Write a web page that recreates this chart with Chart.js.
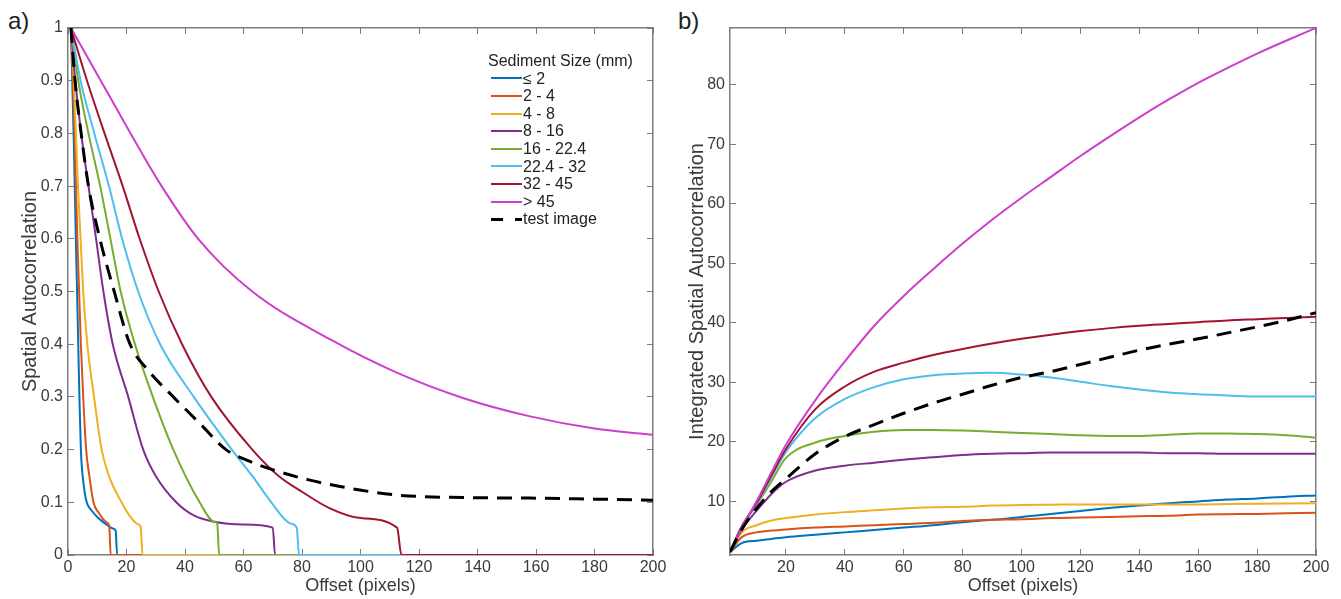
<!DOCTYPE html>
<html>
<head>
<meta charset="utf-8">
<title>Spatial autocorrelation by sediment size</title>
<script src="https://cdn.jsdelivr.net/npm/chart.js@4.4.1/dist/chart.umd.min.js"></script>
<style>
  body { margin: 0; background: #fff; width: 1341px; height: 599px; overflow: hidden;
         font-family: "Liberation Sans", Arial, sans-serif; }
  .panel { position: absolute; top: 0; height: 599px; }
  #panelA { left: 0; width: 670px; }
  #panelB { left: 670px; width: 671px; }
  .tag { position: absolute; top: 7px; font-size: 24px; color: #222; }
  #legend { position: absolute; left: 488px; top: 52px; color: #222; font-size: 16px; line-height: 17.6px; }
  #legend .row { display: flex; align-items: center; height: 17.6px; }
  #legend .swatch { width: 31px; height: 2px; margin-left: 3px; margin-right: 1px; }
</style>
</head>
<body>
<div class="tag" style="left:8px">a)</div>
<div class="tag" style="left:678px">b)</div>
<canvas id="panelA" class="panel" width="670" height="599"></canvas>
<canvas id="panelB" class="panel" width="671" height="599"></canvas>
<div id="legend"></div>

<script>
// legend names
const sizeClasses = ['\u2264 2', '2 - 4', '4 - 8', '8 - 16', '16 - 22.4', '22.4 - 32', '32 - 45', '> 45'];
const testLabel = 'test image';
const lineColors = ['#0072BD', '#D95319', '#EDB120', '#7E2F8E', '#77AC30', '#4DBEEE', '#A2142F', '#CC3FCC'];

// a) spatial autocorrelation vs offset (each class drops to zero at its own offset)
const acX1 = [1, 2, 2.6, 3.1, 3.5, 3.9, 4.4, 5.2, 6.4, 8, 10, 12.6, 15.5, 16.3, 16.8, 200];
const acY1 = [1, 0.78, 0.62, 0.5, 0.4, 0.3, 0.2, 0.14, 0.1, 0.085, 0.072, 0.06, 0.05, 0.046, 0, 0];
const acX2 = [1, 2, 3.2, 3.8, 4.4, 5.2, 6.2, 7.3, 8.7, 10.5, 13.2, 14.1, 14.6, 200];
const acY2 = [1, 0.85, 0.6, 0.5, 0.4, 0.3, 0.2, 0.15, 0.1, 0.08, 0.062, 0.055, 0, 0];
const acX3 = [1, 2, 3.4, 4.3, 5.2, 6.6, 8.9, 11.5, 14, 18.3, 21, 24, 24.8, 25.5, 200];
const acY3 = [1, 0.9, 0.7, 0.6, 0.5, 0.4, 0.3, 0.2, 0.15, 0.1, 0.075, 0.058, 0.055, 0, 0];
const acX4 = [1, 2.5, 4.5, 7, 9.6, 12.1, 15.3, 20.6, 25.7, 30, 37, 43, 50, 60, 70, 70.8, 200];
const acY4 = [1, 0.9, 0.8, 0.7, 0.6, 0.5, 0.4, 0.3, 0.2, 0.15, 0.1, 0.075, 0.063, 0.058, 0.052, 0, 0];
const acX5 = [1, 3.5, 7, 11, 14.5, 18, 22.9, 29, 36, 45, 50, 51, 51.7, 200];
const acY5 = [1, 0.9, 0.8, 0.7, 0.6, 0.5, 0.4, 0.3, 0.2, 0.1, 0.063, 0.06, 0, 0];
const acX6 = [1, 4.3, 9, 14, 18.5, 24, 31.5, 43, 56, 63, 69.5, 76, 78.2, 79, 200];
const acY6 = [1, 0.9, 0.8, 0.7, 0.6, 0.5, 0.4, 0.3, 0.2, 0.15, 0.1, 0.06, 0.052, 0, 0];
const acX7 = [1, 6.5, 12.5, 18.7, 24.5, 31, 39, 49, 63, 72, 80, 89, 100, 112.5, 114, 200];
const acY7 = [1, 0.9, 0.8, 0.7, 0.6, 0.5, 0.4, 0.3, 0.2, 0.15, 0.12, 0.09, 0.07, 0.052, 0, 0];
const acX8 = [1, 11.2, 21.4, 32, 44.5, 63, 90, 112, 135, 158, 180, 200];
const acY8 = [1, 0.9, 0.8, 0.7, 0.6, 0.5, 0.408, 0.347, 0.298, 0.263, 0.24, 0.228];
const acXTest = [1, 2.4, 4.5, 7, 10.9, 15.8, 21.2, 27.5, 36, 45, 54, 62, 71, 82, 93, 112, 135, 158, 180, 200];
const acYTest = [1, 0.9, 0.8, 0.7, 0.6, 0.5, 0.4, 0.35, 0.3, 0.25, 0.2, 0.178, 0.16, 0.143, 0.13, 0.114, 0.109, 0.108, 0.106, 0.104];

// b) integrated spatial autocorrelation, all classes on one offset grid
const intOffsets = [1, 5, 10, 15, 20, 30, 40, 50, 60, 70, 80, 90, 100, 110, 120, 130, 140, 150, 160, 170, 180, 190, 200];
const int1 = [1.5, 3.0, 3.4, 3.7, 4.0, 4.4, 4.8, 5.2, 5.6, 6.0, 6.5, 6.9, 7.4, 7.9, 8.4, 8.9, 9.3, 9.7, 10, 10.3, 10.5, 10.8, 11];
const int2 = [1.5, 4.0, 4.8, 5.1, 5.3, 5.6, 5.8, 6.0, 6.2, 6.4, 6.7, 6.9, 7.0, 7.2, 7.3, 7.4, 7.5, 7.6, 7.8, 7.85, 7.9, 8.0, 8.1];
const int3 = [1.5, 4.8, 6.0, 6.8, 7.2, 7.8, 8.2, 8.5, 8.8, 9.0, 9.1, 9.3, 9.4, 9.45, 9.5, 9.5, 9.5, 9.5, 9.5, 9.55, 9.6, 9.65, 9.7];
const int4 = [1.5, 5.3, 8.4, 11.2, 13.3, 15.2, 16.0, 16.5, 17.0, 17.4, 17.8, 18.0, 18.1, 18.2, 18.2, 18.2, 18.2, 18.1, 18.1, 18.0, 18.0, 18.0, 18.0];
const int5 = [1.5, 5.8, 9.4, 13.3, 17.3, 19.9, 21.0, 21.7, 22.0, 22.0, 21.9, 21.7, 21.5, 21.3, 21.1, 21.0, 21.0, 21.2, 21.4, 21.4, 21.3, 21.1, 20.7];
const int6 = [1.5, 5.8, 9.5, 14.0, 18.3, 24.0, 27.2, 29.2, 30.5, 31.2, 31.5, 31.6, 31.3, 30.8, 30.1, 29.4, 28.8, 28.3, 28.0, 27.8, 27.6, 27.6, 27.6];
const int7 = [1.5, 5.8, 9.7, 14.3, 18.8, 25.5, 29.3, 31.8, 33.3, 34.6, 35.6, 36.5, 37.3, 38.0, 38.6, 39.1, 39.5, 39.8, 40.1, 40.4, 40.6, 40.8, 41.0];
const int8 = [1.5, 5.6, 10.0, 14.8, 19.5, 27.0, 33.5, 39.5, 44.5, 49.0, 53.3, 57.3, 61.0, 64.5, 68.0, 71.3, 74.5, 77.5, 80.3, 82.8, 85.2, 87.4, 89.5];
const intTest = [1.5, 5.3, 8.8, 11.6, 13.8, 18.0, 20.9, 22.9, 24.8, 26.5, 28.0, 29.5, 30.8, 31.8, 33.0, 34.2, 35.4, 36.4, 37.3, 38.3, 39.3, 40.4, 41.7];

// tick labels
const offsetTicksA = [0, 20, 40, 60, 80, 100, 120, 140, 160, 180, 200];
const corrTicksA = [0, 0.1, 0.2, 0.3, 0.4, 0.5, 0.6, 0.7, 0.8, 0.9, 1];
const offsetTicksB = [20, 40, 60, 80, 100, 120, 140, 160, 180, 200];
const integTicksB = [10, 20, 30, 40, 50, 60, 70, 80];

const axisGray = '#7c7c7c';
const textGray = '#3a3a3a';

Chart.defaults.font.family = '"Liberation Sans", Arial, sans-serif';
Chart.defaults.animation = false;

function toPoints(xs, ys) {
    return xs.map((x, k) => ({x: x, y: ys[k]}));
}

// later series sit on top, like the original plot
function classDataset(i, points) {
    return {
        label: sizeClasses[i],
        data: points,
        borderColor: lineColors[i],
        borderWidth: 2,
        pointRadius: 0,
        cubicInterpolationMode: 'monotone',
        xAxisID: 'x',
        yAxisID: 'y',
        order: 20 - i
    };
}

function testDataset(points) {
    return {
        label: testLabel,
        data: points,
        borderColor: '#000',
        borderWidth: 3,
        borderDash: [15, 9],
        pointRadius: 0,
        cubicInterpolationMode: 'monotone',
        xAxisID: 'x',
        yAxisID: 'y',
        order: 0
    };
}

function pinTicks(values) {
    return scale => { scale.ticks = values.map(v => ({value: v})); };
}

function boxedScales(o) {
    const grid = {drawOnChartArea: false, drawTicks: true, tickLength: -6, tickColor: axisGray, tickWidth: 1};
    const border = {display: true, color: axisGray, width: 1.5};
    const tickFont = {size: 16};
    return {
        x: {
            type: 'linear', position: 'bottom', min: o.xMin, max: o.xMax,
            afterBuildTicks: pinTicks(o.xTicks),
            // fixed box, and no extra room for the end labels
            afterFit: s => { s.height = 44; s.paddingLeft = 0; s.paddingRight = 0; },
            grid, border,
            ticks: {autoSkip: false, maxRotation: 0, padding: 9, color: textGray, font: tickFont, callback: v => String(v)},
            title: {display: true, text: 'Offset (pixels)', color: textGray, font: {size: 18}, padding: {top: 0, bottom: 2}}
        },
        xTop: {
            type: 'linear', position: 'top', min: o.xMin, max: o.xMax,
            afterBuildTicks: pinTicks(o.xTicks),
            afterFit: s => { s.height = 0; },
            grid, border, ticks: {display: false}
        },
        y: {
            type: 'linear', position: 'left', min: o.yMin, max: o.yMax,
            afterBuildTicks: pinTicks(o.yTicks),
            afterFit: s => { s.width = o.yWidth; s.paddingTop = 0; s.paddingBottom = 0; },
            grid, border,
            ticks: {autoSkip: false, padding: 11, color: textGray, font: tickFont, callback: v => String(v)},
            title: {display: true, text: o.yTitle, color: textGray, font: {size: 20}, padding: {top: o.yTitlePad, bottom: 0}}
        },
        yRight: {
            type: 'linear', position: 'right', min: o.yMin, max: o.yMax,
            afterBuildTicks: pinTicks(o.yTicks),
            afterFit: s => { s.width = 0; },
            grid, border, ticks: {display: false}
        }
    };
}

const baseOptions = {
    responsive: false,
    devicePixelRatio: 1,
    plugins: {legend: {display: false}, tooltip: {enabled: false}}
};

const acSeries = [[acX1, acY1], [acX2, acY2], [acX3, acY3], [acX4, acY4],
                  [acX5, acY5], [acX6, acY6], [acX7, acY7], [acX8, acY8]];

new Chart(document.getElementById('panelA'), {
    type: 'line',
    data: {
        datasets: acSeries.map(([xs, ys], i) => classDataset(i, toPoints(xs, ys)))
            .concat([testDataset(toPoints(acXTest, acYTest))])
    },
    options: {
        ...baseOptions,
        layout: {padding: {top: 28, right: 17, left: 0, bottom: 0}},
        scales: boxedScales({
            xMin: 0, xMax: 200, xTicks: offsetTicksA,
            yMin: 0, yMax: 1, yTicks: corrTicksA,
            yWidth: 68, yTitle: 'Spatial Autocorrelation', yTitlePad: 18
        })
    }
});

const intSeries = [int1, int2, int3, int4, int5, int6, int7, int8];

new Chart(document.getElementById('panelB'), {
    type: 'line',
    data: {
        datasets: intSeries.map((ys, i) => classDataset(i, toPoints(intOffsets, ys)))
            .concat([testDataset(toPoints(intOffsets, intTest))])
    },
    options: {
        ...baseOptions,
        layout: {padding: {top: 28, right: 25, left: 0, bottom: 0}},
        scales: boxedScales({
            xMin: 1, xMax: 200, xTicks: offsetTicksB,
            yMin: 1, yMax: 89.5, yTicks: integTicksB,
            yWidth: 60, yTitle: 'Integrated Spatial Autocorrelation', yTitlePad: 15
        })
    }
});

// legend inside panel a
const legend = document.getElementById('legend');
legend.innerHTML = '<div>Sediment Size (mm)</div>' +
    sizeClasses.map((name, i) =>
        `<div class="row"><span class="swatch" style="background:${lineColors[i]}"></span><span>${name.replace('<', '&lt;').replace('>', '&gt;')}</span></div>`
    ).join('') +
    `<div class="row"><span class="swatch" style="height:3px;background:linear-gradient(to right,#000 0 12px,transparent 12px 24px,#000 24px 31px)"></span><span>${testLabel}</span></div>`;
</script>
</body>
</html>
